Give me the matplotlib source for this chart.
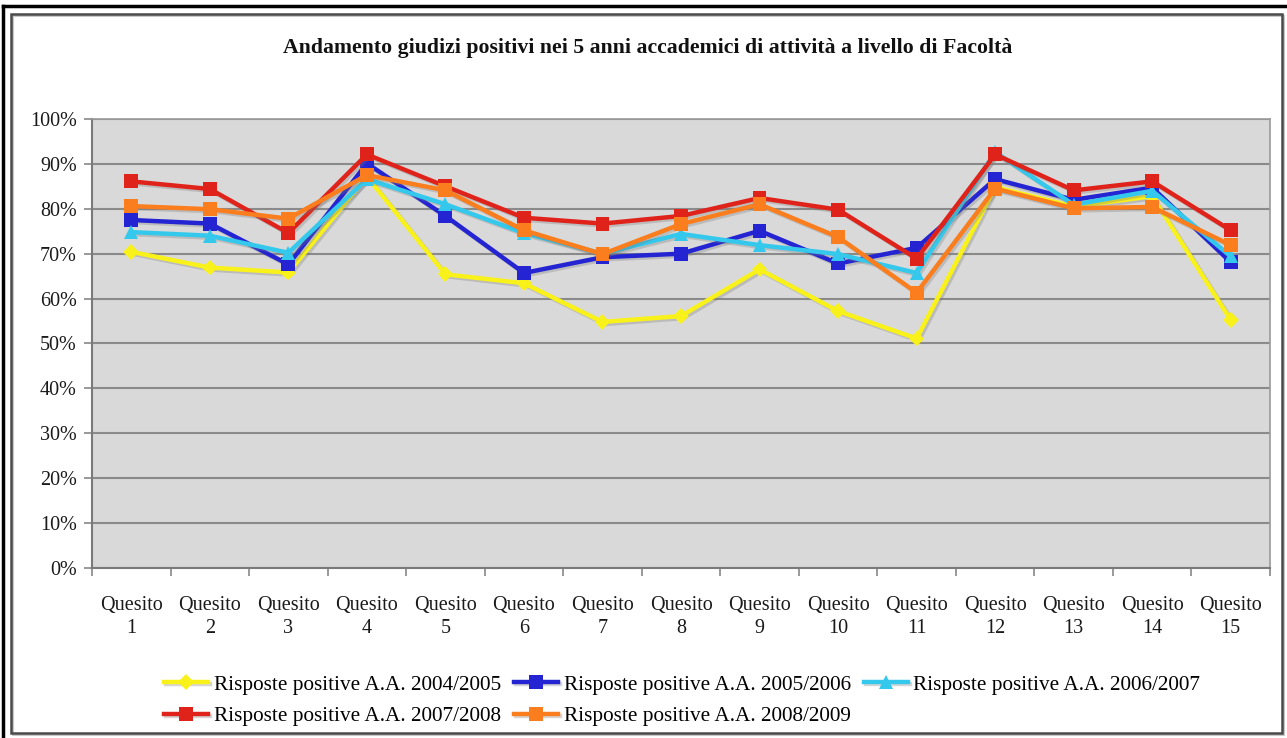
import matplotlib
matplotlib.use("Agg")
import matplotlib.pyplot as plt
import matplotlib.patheffects as pe
from matplotlib.patches import Rectangle
from matplotlib.lines import Line2D
import numpy as np

# Categories: questionnaire items
questions = [f"Quesito\n{i}" for i in range(1, 16)]

# Share of positive answers (%) per academic year
aa_2004_2005 = [70.4, 66.9, 65.8, 87.2, 65.4, 63.4, 54.8, 56.1, 66.5, 57.2, 51.1, 84.8, 80.5, 82.8, 55.2]
aa_2005_2006 = [77.5, 76.7, 67.6, 90.1, 78.4, 65.7, 69.2, 70.0, 75.1, 67.8, 71.3, 86.6, 82.0, 84.7, 68.1]
aa_2006_2007 = [74.8, 74.0, 70.2, 86.6, 81.0, 74.6, 70.0, 74.4, 71.9, 69.9, 65.7, 92.6, 80.9, 84.0, 69.4]
aa_2007_2008 = [86.1, 84.4, 74.6, 92.1, 85.0, 78.0, 76.7, 78.4, 82.4, 79.8, 68.9, 92.1, 84.1, 86.1, 75.2]
aa_2008_2009 = [80.6, 79.9, 77.8, 87.5, 84.1, 75.2, 69.9, 76.6, 81.0, 73.7, 61.3, 84.5, 80.1, 80.4, 71.9]

series_labels = [
    "Risposte positive A.A. 2004/2005",
    "Risposte positive A.A. 2005/2006",
    "Risposte positive A.A. 2006/2007",
    "Risposte positive A.A. 2007/2008",
    "Risposte positive A.A. 2008/2009",
]
y_ticks = [0, 10, 20, 30, 40, 50, 60, 70, 80, 90, 100]
y_tick_labels = [f"{v}%" for v in y_ticks]

title = "Andamento giudizi positivi nei 5 anni accademici di attività a livello di Facoltà"

series = [aa_2004_2005, aa_2005_2006, aa_2006_2007, aa_2007_2008, aa_2008_2009]
colors = ["#f9f21a", "#2424d2", "#33c8ec", "#e0231a", "#fa7d1e"]
markers = ["D", "s", "^", "s", "s"]
msizes = [8, 10, 10, 10, 10]

plt.rcParams["font.family"] = ["Liberation Serif", "DejaVu Serif"]

fig = plt.figure(figsize=(12.87, 7.38), dpi=100)
ax = fig.add_axes([0.0715, 0.2304, 0.9153, 0.6084])

x = np.arange(len(questions))
shadow = [pe.SimpleLineShadow(offset=(1.5, -1.5), shadow_color="#777777", alpha=0.3), pe.Normal()]
handles = []
for vals, col, mk, ms, lab in zip(series, colors, markers, msizes, series_labels):
    (h,) = ax.plot(x, vals, color=col, marker=mk, markersize=ms, linewidth=3.2,
                   markeredgewidth=0, label=lab, path_effects=shadow, clip_on=False, zorder=3)
    handles.append(h)

ax.set_xlim(-0.5, len(questions) - 0.5)
ax.set_ylim(0, 100)
ax.set_facecolor("#d9d9d9")

ax.set_yticks(y_ticks)
ax.set_yticklabels(y_tick_labels, fontsize=14.5, color="#1a1a1a")
ax.set_xticks(x)
ax.set_xticklabels(questions, fontsize=14.5, color="#1a1a1a", linespacing=1.3)
ax.set_xticks(np.arange(-0.5, len(questions)), minor=True)

ax.tick_params(axis="x", which="major", length=0, pad=20)
ax.tick_params(axis="x", which="minor", length=6, color="#888888", width=1.2)
ax.tick_params(axis="y", length=6, color="#888888", width=1.2, pad=5)

ax.yaxis.grid(True, color="#8a8a8a", linewidth=1.5)
ax.set_axisbelow(True)
for side in ["top", "right"]:
    ax.spines[side].set_color("#9a9a9a")
    ax.spines[side].set_linewidth(1.2)
for side in ["left", "bottom"]:
    ax.spines[side].set_color("#7a7a7a")
    ax.spines[side].set_linewidth(1.5)

fig.text(0.5035, 0.935, title, ha="center", va="center", fontsize=15.7, fontweight="bold", color="#111111")

# legend laid out row by row: 3 entries on top, 2 below
order = [0, 3, 1, 4, 2]
fig.legend([handles[i] for i in order], [series_labels[i] for i in order],
           loc="center", bbox_to_anchor=(0.53, 0.051), ncol=3, frameon=False,
           fontsize=15.3, handlelength=2.1, handletextpad=0.25, columnspacing=0.6,
           labelspacing=0.55, borderaxespad=0)

# chart frame (with a soft offset shadow) and outer page border
W, H = 1287, 738
fig.patches.append(Rectangle((13 / W, 1 - 735 / H), (1284 - 13) / W, (735 - 16) / H,
                             transform=fig.transFigure, fill=False, edgecolor="#c8c8c8", linewidth=1.5))
fig.patches.append(Rectangle((11 / W, 1 - 733 / H), (1282 - 11) / W, (733 - 14) / H,
                             transform=fig.transFigure, fill=False, edgecolor="#4a4a4a", linewidth=1.8))
fig.lines.append(Line2D([3 / W, 1286 / W], [1 - 6 / H, 1 - 6 / H], transform=fig.transFigure,
                        color="black", linewidth=2.5))
fig.lines.append(Line2D([3 / W, 3 / W], [0, 1 - 6 / H], transform=fig.transFigure,
                        color="black", linewidth=2.5))

fig.savefig("out.png", dpi=100, facecolor="white")
